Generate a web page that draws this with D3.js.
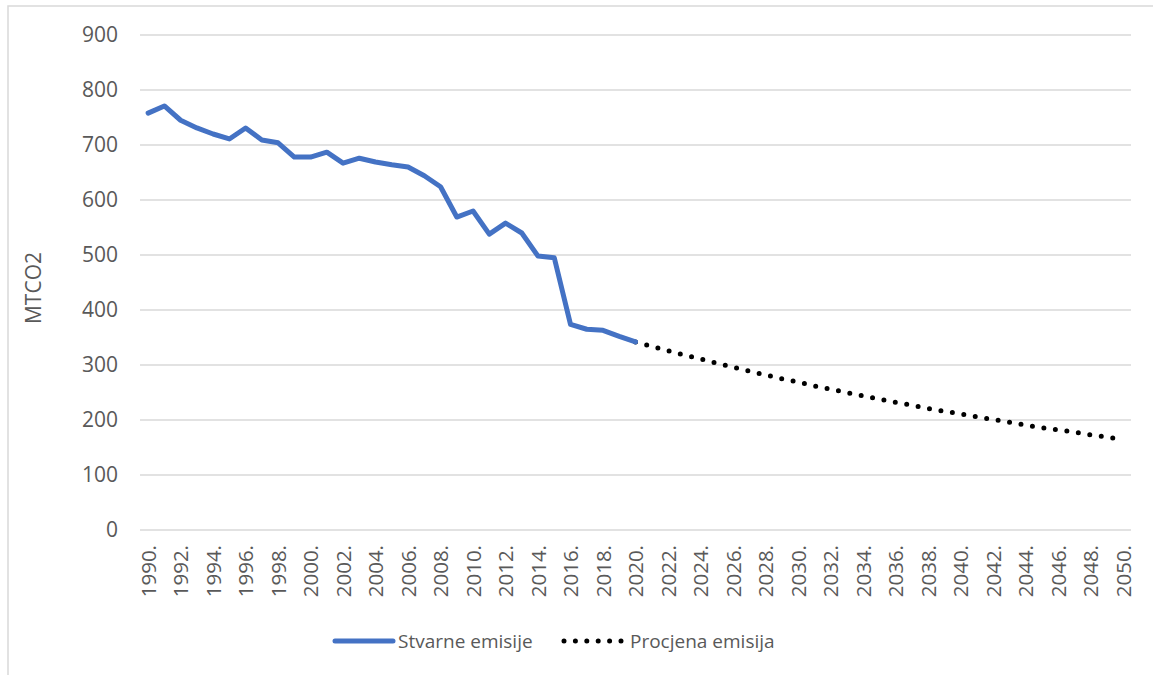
<!DOCTYPE html>
<html>
<head>
<meta charset="utf-8">
<script src="https://cdn.jsdelivr.net/npm/d3@7"></script>
<style>
  body { margin: 0; background: #fff; }
  text { font-family: "Open Sans", "Liberation Sans", sans-serif; fill: #595959; }
</style>
</head>
<body>
<div id="chart"></div>
<script>
// years on the category axis
var years = d3.range(1990, 2051);
// actual emissions 1990-2020
var stvarneYears = d3.range(1990, 2021);
var stvarne = [758, 771, 745, 731, 720, 711, 731, 709, 704, 678,
               678, 687, 667, 676, 669, 664, 660, 644, 624, 569,
               580, 538, 558, 540, 498, 495, 374, 365, 363, 352, 342];
// projected emissions 2020-2050
var procjenaYears = d3.range(2020, 2051);
var procjena = [342, 334, 326, 318, 311, 303, 296, 289, 282, 275,
                269, 262, 256, 250, 244, 238, 232, 227, 221, 216,
                211, 206, 201, 196, 191, 186, 182, 178, 173, 169, 165];
var yTicks = [0, 100, 200, 300, 400, 500, 600, 700, 800, 900];

var W = 1153, H = 675;
var margin = {top: 35, right: 22, bottom: 145, left: 140};
var width = W - margin.left - margin.right,
    height = H - margin.top - margin.bottom;

var svg = d3.select("#chart").append("svg")
  .attr("width", W)
  .attr("height", H);

// chart frame (left and top edges show)
svg.append("rect")
  .attr("x", 8).attr("y", 6)
  .attr("width", W + 10).attr("height", H + 10)
  .attr("fill", "none")
  .attr("stroke", "#d9d9d9")
  .attr("stroke-width", 1.5);

var g = svg.append("g")
  .attr("transform", "translate(" + margin.left + "," + margin.top + ")");

var x = d3.scalePoint().domain(years).range([0, width]).padding(0.5);
var y = d3.scaleLinear().domain([0, 900]).range([height, 0]);

// gridlines
g.append("g")
  .selectAll("line")
  .data(yTicks)
  .join("line")
  .attr("x1", 0).attr("x2", width)
  .attr("y1", d => y(d)).attr("y2", d => y(d))
  .attr("stroke", "#d9d9d9")
  .attr("stroke-width", 1.5);

// y axis labels
var yAxis = g.append("g")
  .call(d3.axisLeft(y).tickValues(yTicks).tickSize(0).tickPadding(22));
yAxis.select(".domain").remove();
yAxis.selectAll("text")
  .style("font-size", "21px")
  .attr("fill", "#595959");

// x axis labels, every other year, rotated
var xAxis = g.append("g")
  .attr("transform", "translate(0," + height + ")")
  .call(d3.axisBottom(x)
    .tickValues(years.filter(d => d % 2 == 0))
    .tickFormat(d => d + ".")
    .tickSize(0));
xAxis.select(".domain").remove();
xAxis.selectAll("text")
  .style("font-size", "20.5px")
  .attr("fill", "#595959")
  .attr("text-anchor", "end")
  .attr("dy", "0.35em")
  .attr("transform", "translate(0,15) rotate(-90)")
  .attr("x", 0).attr("y", 0);

// y axis title
svg.append("text")
  .attr("transform", "translate(41,288) rotate(-90)")
  .attr("text-anchor", "middle")
  .style("font-size", "21px")
  .text("MTCO2");

var line = d3.line()
  .x(d => x(d[0]))
  .y(d => y(d[1]));

// projected, dotted
g.append("path")
  .datum(d3.zip(procjenaYears, procjena))
  .attr("fill", "none")
  .attr("stroke", "#000")
  .attr("stroke-width", 5)
  .attr("stroke-linecap", "round")
  .attr("stroke-dasharray", "0,11.6")
  .attr("d", line);

// actual, solid blue
g.append("path")
  .datum(d3.zip(stvarneYears, stvarne))
  .attr("fill", "none")
  .attr("stroke", "#4472c4")
  .attr("stroke-width", 5)
  .attr("stroke-linejoin", "round")
  .attr("stroke-linecap", "round")
  .attr("d", line);

// legend
var leg = svg.append("g").attr("transform", "translate(0,641)");
leg.append("line")
  .attr("x1", 335).attr("x2", 393)
  .attr("stroke", "#4472c4").attr("stroke-width", 5)
  .attr("stroke-linecap", "round");
leg.append("text")
  .attr("x", 398).attr("dy", "0.35em")
  .style("font-size", "19px")
  .text("Stvarne emisije");
leg.append("line")
  .attr("x1", 564).attr("x2", 621)
  .attr("stroke", "#000").attr("stroke-width", 5)
  .attr("stroke-linecap", "round")
  .attr("stroke-dasharray", "0,11.4");
leg.append("text")
  .attr("x", 630).attr("dy", "0.35em")
  .style("font-size", "19px")
  .text("Procjena emisija");
</script>
</body>
</html>
